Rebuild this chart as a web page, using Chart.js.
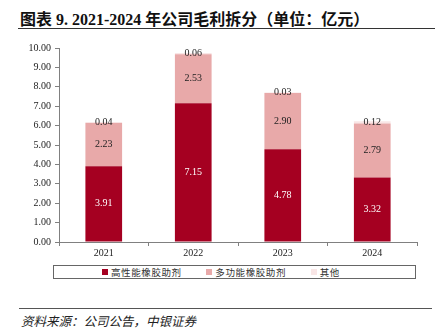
<!DOCTYPE html>
<html>
<head>
<meta charset="utf-8">
<script src="https://cdn.jsdelivr.net/npm/chart.js@4"></script>
<style>
  body { margin: 0; width: 435px; height: 332px; position: relative; background: #fff; overflow: hidden; }
  #title { position: absolute; left: 20px; top: 6px; font: bold 16px "Liberation Serif", "Noto Sans CJK SC", serif; color: #111; white-space: nowrap; }
  #topLine { position: absolute; left: 18px; right: 0; top: 28px; height: 0; border-top: 1.5px solid #333; }
  #chartBox { position: absolute; left: 0; top: 0; width: 435px; height: 262px; }
  #legend { position: absolute; left: 53px; top: 265px; width: 363px; height: 14px; box-sizing: border-box; border: 1px solid #666; padding-left: 48px; display: flex; align-items: center; font: 9.5px "Noto Sans CJK SC", sans-serif; color: #333; letter-spacing: 0.6px; }
  #legend .item { width: 121px; display: flex; align-items: center; }
  #legend .sw { width: 6px; height: 6px; margin-right: 3px; }
  #bottomLine { position: absolute; left: 19px; right: 3px; top: 308px; height: 0; border-top: 1.5px solid #555; }
  #source { position: absolute; left: 21px; top: 311px; font: italic 12.5px "Noto Sans CJK SC", sans-serif; color: #222; white-space: nowrap; }
</style>
</head>
<body>
<div id="title">图表 9. 2021-2024 年公司毛利拆分（单位：亿元）</div>
<div id="topLine"></div>
<div id="chartBox"><canvas id="profitChart"></canvas></div>
<div id="legend"></div>
<div id="bottomLine"></div>
<div id="source">资料来源：公司公告，中银证券</div>
<script>
// Data (亿元)
const years = ['2021', '2022', '2023', '2024'];
const seriesNames = ['高性能橡胶助剂', '多功能橡胶助剂', '其他'];
const highPerf = [3.91, 7.15, 4.78, 3.32];
const multiFunc = [2.23, 2.53, 2.90, 2.79];
const others = [0.04, 0.06, 0.03, 0.12];
const seriesColors = ['#A50021', '#E8A9A9', '#F9E6E6'];
const labelColors = ['#ffffff', '#222222', '#222222'];

const serif = '"Liberation Serif", "Times New Roman", serif';

// Value labels centred in each segment
const segmentLabels = {
    id: 'segmentLabels',
    afterDatasetsDraw(chart) {
        const ctx = chart.ctx;
        ctx.save();
        ctx.font = '10px ' + serif;
        ctx.textAlign = 'center';
        ctx.textBaseline = 'middle';
        chart.data.datasets.forEach((ds, i) => {
            chart.getDatasetMeta(i).data.forEach((bar, j) => {
                const y = (bar.y + bar.base) / 2;
                ctx.fillStyle = labelColors[i];
                ctx.fillText(ds.data[j].toFixed(2), bar.x, y);
            });
        });
        ctx.restore();
    }
};

const ctx = document.getElementById('profitChart').getContext('2d');
new Chart(ctx, {
    type: 'bar',
    data: {
        labels: years,
        datasets: [
            { label: seriesNames[0], data: highPerf, backgroundColor: seriesColors[0] },
            { label: seriesNames[1], data: multiFunc, backgroundColor: seriesColors[1] },
            { label: seriesNames[2], data: others, backgroundColor: seriesColors[2] }
        ]
    },
    options: {
        responsive: true,
        maintainAspectRatio: false,
        animation: false,
        datasets: { bar: { categoryPercentage: 1, barPercentage: 0.41 } },
        layout: { padding: { top: 48, right: 18, left: 0, bottom: 1 } },
        plugins: { legend: { display: false }, tooltip: { enabled: false } },
        scales: {
            x: {
                stacked: true,
                afterFit: s => { s.height = 19; },
                border: { color: '#808080', width: 1 },
                grid: { display: true, drawOnChartArea: false, offset: true, tickLength: 4, color: '#808080' },
                ticks: { color: '#222', padding: 1, font: { family: serif, size: 10 } }
            },
            y: {
                stacked: true,
                min: 0,
                max: 10,
                afterFit: s => { s.width = 59; },
                border: { color: '#808080', width: 1 },
                grid: { display: true, drawOnChartArea: false, tickLength: 4, color: '#808080' },
                ticks: { stepSize: 1, color: '#222', padding: 4, font: { family: serif, size: 10 }, callback: v => v.toFixed(2) }
            }
        }
    },
    plugins: [segmentLabels]
});

// Legend
document.getElementById('legend').innerHTML = seriesNames.map((name, i) =>
    `<div class="item"><span class="sw" style="background:${seriesColors[i]}"></span><span>${name}</span></div>`
).join('');
</script>
</body>
</html>
